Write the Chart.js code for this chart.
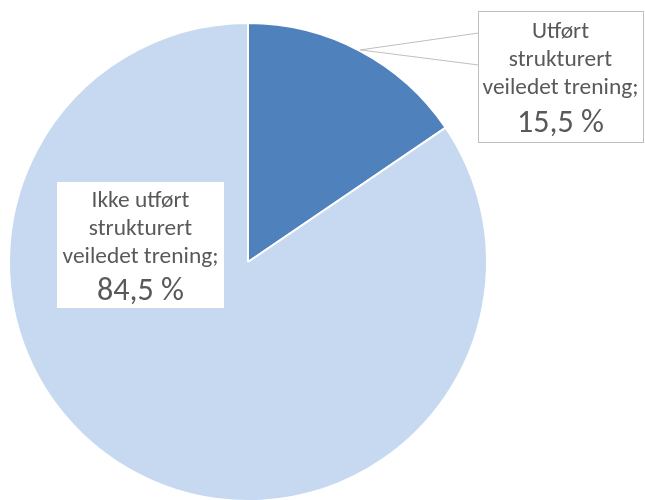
<!DOCTYPE html>
<html>
<head>
<meta charset="utf-8">
<script src="https://cdn.jsdelivr.net/npm/chart.js@4/dist/chart.umd.min.js"></script>
<style>
html,body{margin:0;padding:0;background:#fff;overflow:hidden;}
canvas{display:block;}
</style>
</head>
<body>
<canvas id="c" width="645" height="520"></canvas>
<script>
const categories = ["Utført strukturert veiledet trening", "Ikke utført strukturert veiledet trening"];
const values = [15.5, 84.5];
const labelLines = [
  ["Utført", "strukturert", "veiledet trening;"],
  ["Ikke utført", "strukturert", "veiledet trening;"]
];
const valueLabels = ["15,5 %", "84,5 %"];
const colors = ["#4F81BD", "#C6D9F0"];

const FONT = "Carlito, Calibri, 'Open Sans', sans-serif";

function fitFont(ctx, text, target, base) {
  ctx.font = base + "px " + FONT;
  const w = ctx.measureText(text).width;
  return base * target / w;
}

function drawLabel(ctx, lines, valTxt, box, bordered) {
  ctx.save();
  ctx.fillStyle = "#ffffff";
  ctx.fillRect(box.x, box.y, box.w, box.h);
  if (bordered) {
    ctx.strokeStyle = "#BFBFBF";
    ctx.lineWidth = 1;
    ctx.strokeRect(box.x + 0.5, box.y + 0.5, box.w, box.h);
  }
  ctx.fillStyle = "#595959";
  ctx.textAlign = "center";
  ctx.textBaseline = "alphabetic";
  const cx = box.x + box.w / 2;
  const fs = fitFont(ctx, "veiledet trening;", 156, 20);
  ctx.font = fs.toFixed(2) + "px " + FONT;
  lines.forEach((l, i) => ctx.fillText(l, cx, box.y + box.base[i]));
  const fv = fitFont(ctx, "15,5 %", 87, 28);
  ctx.font = fv.toFixed(2) + "px " + FONT;
  ctx.fillText(valTxt, cx, box.y + box.base[3]);
  ctx.restore();
}

const labelPlugin = {
  id: "calloutLabels",
  afterDatasetsDraw(chart) {
    const ctx = chart.ctx;
    const meta = chart.getDatasetMeta(0);
    const a0 = meta.data[0];
    const cx = a0.x, cy = a0.y, r = a0.outerRadius;
    const mid = (a0.startAngle + a0.endAngle) / 2;
    const tipX = cx + Math.cos(mid) * (r + 1);
    const tipY = cy + Math.sin(mid) * (r + 1);

    const b1 = {x: cx + 230, y: cy - 251, w: 165, h: 131, base: [27, 55, 83, 121]};
    ctx.save();
    ctx.beginPath();
    ctx.moveTo(b1.x + 0.5, b1.y + 22);
    ctx.lineTo(tipX, tipY);
    ctx.lineTo(b1.x + 0.5, b1.y + 54);
    ctx.closePath();
    ctx.fillStyle = "#ffffff";
    ctx.fill();
    ctx.beginPath();
    ctx.moveTo(b1.x + 0.5, b1.y + 22);
    ctx.lineTo(tipX, tipY);
    ctx.lineTo(b1.x + 0.5, b1.y + 54);
    ctx.strokeStyle = "#BFBFBF";
    ctx.lineWidth = 1;
    ctx.stroke();
    ctx.restore();
    drawLabel(ctx, labelLines[0], valueLabels[0], b1, true);

    const b2 = {x: cx - 191, y: cy - 80, w: 167, h: 126, base: [25, 53, 81, 118]};
    drawLabel(ctx, labelLines[1], valueLabels[1], b2, false);
  }
};

new Chart(document.getElementById("c"), {
  type: "pie",
  data: {
    labels: categories,
    datasets: [{
      data: values,
      backgroundColor: colors,
      borderColor: "#ffffff",
      borderWidth: 2
    }]
  },
  options: {
    responsive: false,
    animation: false,
    layout: {padding: {left: 8, right: 157, top: 22, bottom: 18}},
    plugins: {legend: {display: false}, tooltip: {enabled: false}}
  },
  plugins: [labelPlugin]
});
</script>
</body>
</html>
